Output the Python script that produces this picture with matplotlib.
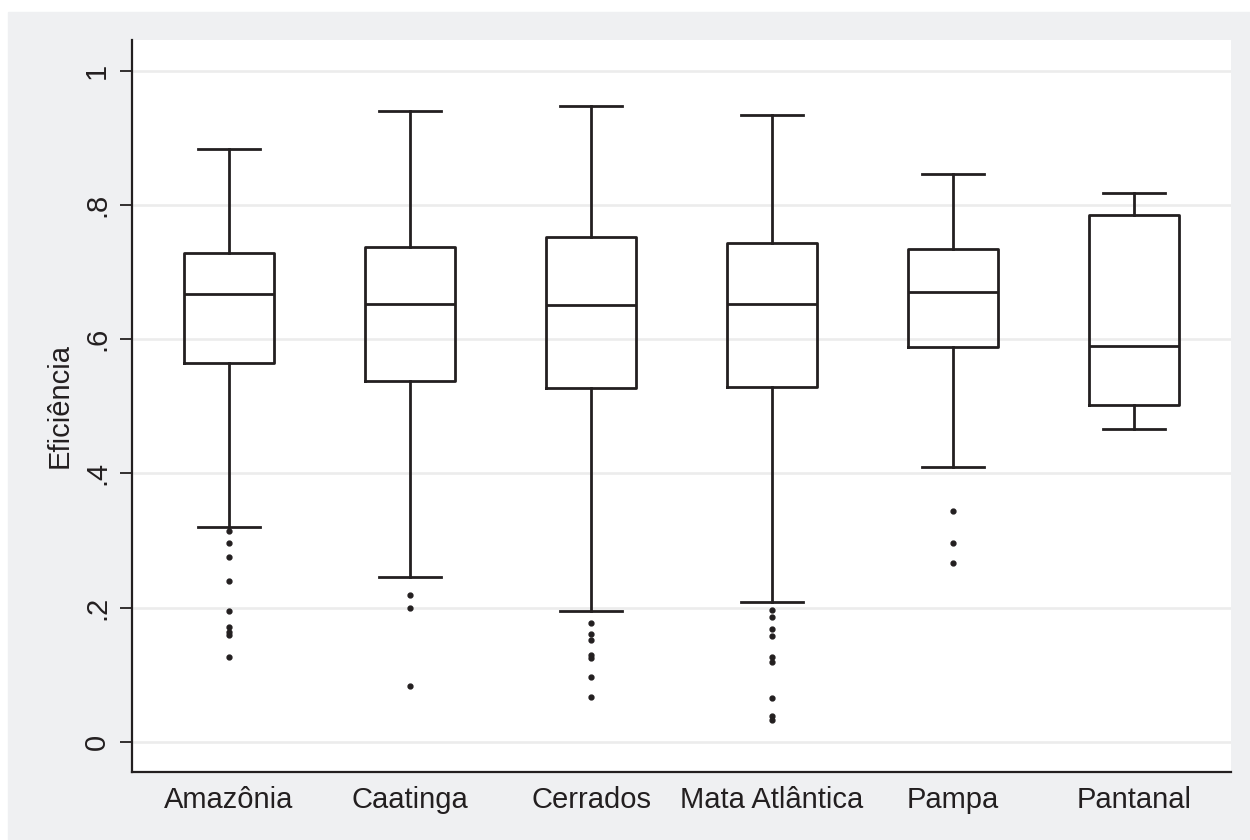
import matplotlib
matplotlib.use("Agg")
import matplotlib.pyplot as plt
from matplotlib.patches import Rectangle

plt.rcParams['font.family'] = ['Liberation Sans', 'DejaVu Sans']

# biomes and box statistics
biomes = ["Amazônia", "Caatinga", "Cerrados", "Mata Atlântica", "Pampa", "Pantanal"]
whisker_low = [0.320, 0.246, 0.195, 0.209, 0.410, 0.466]
q1 = [0.565, 0.538, 0.528, 0.529, 0.589, 0.502]
median = [0.668, 0.653, 0.651, 0.653, 0.671, 0.590]
q3 = [0.729, 0.738, 0.753, 0.744, 0.734, 0.785]
whisker_high = [0.884, 0.940, 0.948, 0.934, 0.847, 0.818]

# outliers below the lower whisker
out_amazonia = [0.314, 0.297, 0.276, 0.240, 0.195, 0.171, 0.164, 0.159, 0.127]
out_caatinga = [0.219, 0.200, 0.083]
out_cerrados = [0.177, 0.161, 0.151, 0.130, 0.125, 0.097, 0.067]
out_mata = [0.197, 0.186, 0.168, 0.158, 0.127, 0.119, 0.066, 0.039, 0.033]
out_pampa = [0.344, 0.296, 0.267]
out_pantanal = []
outliers = [out_amazonia, out_caatinga, out_cerrados, out_mata, out_pampa, out_pantanal]

yticks = [0, 0.2, 0.4, 0.6, 0.8, 1.0]
ytick_labels = ["0", ".2", ".4", ".6", ".8", "1"]

stats = []
for i in range(len(biomes)):
    stats.append({"label": biomes[i], "whislo": whisker_low[i], "q1": q1[i],
                  "med": median[i], "q3": q3[i], "whishi": whisker_high[i],
                  "fliers": outliers[i]})

fig = plt.figure(figsize=(12.5, 8.4), dpi=100, facecolor="white")
# gray outer region like Stata graph
fig.patches.append(Rectangle((8 / 1250, 0), 1, (840 - 12) / 840,
                             transform=fig.transFigure, color="#eff0f2", zorder=-1))

ax = fig.add_axes([132 / 1250, 68 / 840, 1099 / 1250, 732 / 840])
ax.set_facecolor("white")

dark = "#231f20"
lw = 2.0
ax.bxp(stats, positions=range(1, 7), widths=0.5, capwidths=0.34,
       boxprops=dict(color=dark, linewidth=lw),
       whiskerprops=dict(color=dark, linewidth=lw),
       capprops=dict(color=dark, linewidth=lw),
       medianprops=dict(color=dark, linewidth=lw),
       flierprops=dict(marker="o", markersize=3.5, markerfacecolor=dark,
                       markeredgecolor=dark, linestyle="none"))

ax.set_xlim(0.464, 6.536)
ax.set_ylim(-0.045, 1.046)

ax.set_yticks(yticks)
ax.set_yticklabels(ytick_labels, rotation=90, va="center", fontsize=21, color=dark)
ax.tick_params(axis="y", length=9, width=1.3, color=dark, pad=6)
ax.tick_params(axis="x", length=0, pad=10, labelsize=21, labelcolor=dark)
ax.yaxis.grid(True, color="#ececec", linewidth=1.9)
ax.set_axisbelow(True)

for side in ["top", "right"]:
    ax.spines[side].set_visible(False)
for side in ["left", "bottom"]:
    ax.spines[side].set_color(dark)
    ax.spines[side].set_linewidth(1.6)

ax.set_ylabel("Eficiência", fontsize=21, color=dark, labelpad=7)

fig.savefig("out.png", dpi=100, facecolor=fig.get_facecolor())
